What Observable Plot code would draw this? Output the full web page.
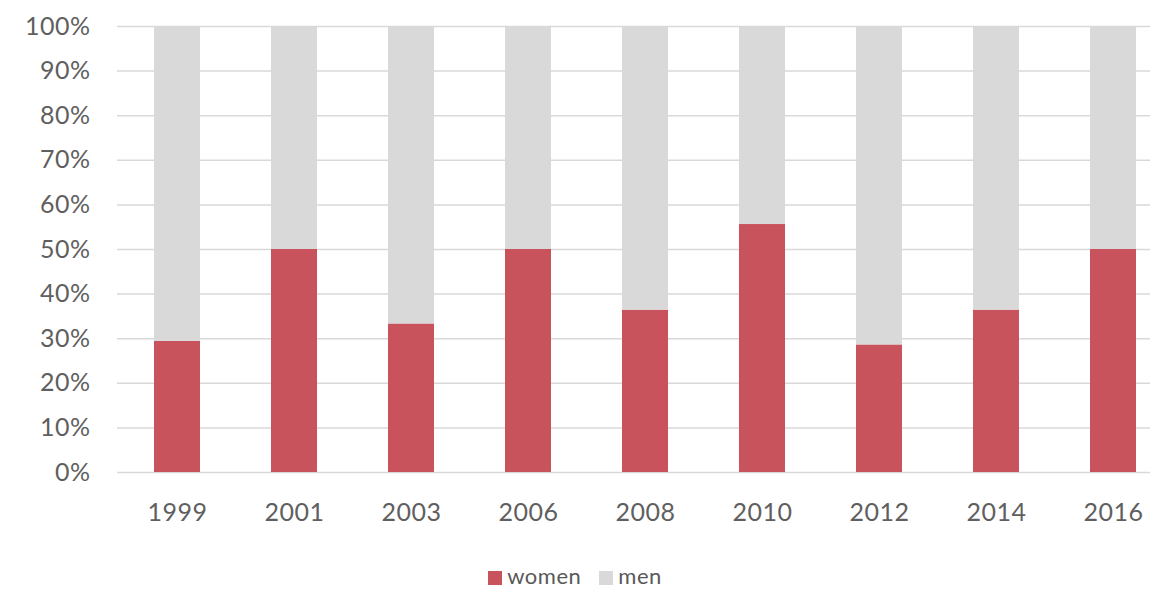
<!DOCTYPE html>
<html>
<head>
<meta charset="utf-8">
<script src="https://cdn.jsdelivr.net/npm/d3@7"></script>
<script src="https://cdn.jsdelivr.net/npm/@observablehq/plot@0.6"></script>
<style>
  html, body { margin: 0; padding: 0; background: #fff; overflow: hidden; width: 1150px; height: 591px; }
  #chart { width: 1150px; overflow: hidden; }
  #chart svg { display: block; }
  #legend { width: 1150px; height: 31px; line-height: 31px; text-align: center; font-family: Lato, "Open Sans", sans-serif; font-size: 22px; color: #595959; white-space: nowrap; letter-spacing: 0.5px; }
  #legend .sw { display: inline-block; width: 14px; height: 14px; margin-right: 5px; vertical-align: -1px; }
  #legend .item { display: inline-block; margin: 0 9px; }
</style>
</head>
<body>
<div id="chart"></div>
<div id="legend"></div>
<script>
const years = ["1999", "2001", "2003", "2006", "2008", "2010", "2012", "2014", "2016"];
const women = [0.294, 0.5, 0.333, 0.5, 0.364, 0.556, 0.286, 0.364, 0.5];
const men   = [0.706, 0.5, 0.667, 0.5, 0.636, 0.444, 0.714, 0.636, 0.5];
const series = ["women", "men"];
const seriesColors = ["#c9535d", "#d9d9d9"];
const yTicks = [0, 0.1, 0.2, 0.3, 0.4, 0.5, 0.6, 0.7, 0.8, 0.9, 1.0];

const data = years.flatMap((y, i) => [
  {year: y, sex: "women", v: women[i]},
  {year: y, sex: "men", v: men[i]}
]);

const chart = Plot.plot({
  width: 1150,
  height: 560,
  marginLeft: 117,
  marginRight: 0,
  marginTop: 26,
  marginBottom: 88,
  style: {fontFamily: "Lato, 'Open Sans', sans-serif", background: "#fff", letterSpacing: "0.5px"},
  x: {domain: years, range: [117, 1173], paddingInner: 0.61, paddingOuter: 0.305},
  y: {domain: [0, 1]},
  color: {domain: series, range: seriesColors},
  marks: [
    Plot.ruleY(yTicks, {stroke: "#d9d9d9", strokeWidth: 1.5}),
    Plot.barY(data, {x: "year", y: "v", fill: "sex", order: series}),
    Plot.axisX({tickSize: 0, tickPadding: 31, fontSize: 25, color: "#5f5f5f", label: null}),
    Plot.axisY(yTicks, {tickSize: 0, tickPadding: 27, fontSize: 25, color: "#5f5f5f", label: null,
      tickFormat: d => Math.round(d * 100) + "%"})
  ]
});
document.getElementById("chart").appendChild(chart);

const legend = document.getElementById("legend");
series.forEach((s, i) => {
  const item = document.createElement("span");
  item.className = "item";
  const sw = document.createElement("span");
  sw.className = "sw";
  sw.style.background = seriesColors[i];
  item.appendChild(sw);
  item.appendChild(document.createTextNode(s));
  legend.appendChild(item);
});
</script>
</body>
</html>
